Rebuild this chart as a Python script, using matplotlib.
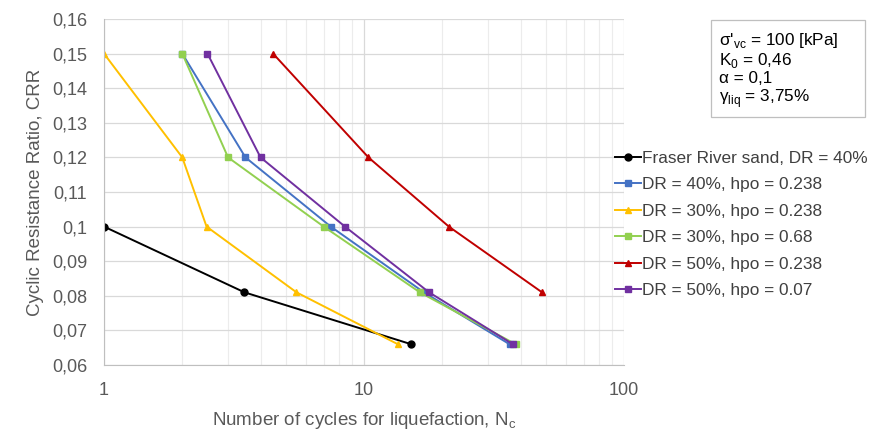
import matplotlib
matplotlib.use('Agg')
import matplotlib.pyplot as plt
from matplotlib.patches import Rectangle
from matplotlib.ticker import FuncFormatter, LogLocator, MultipleLocator

plt.rcParams['font.family'] = ['Liberation Sans', 'DejaVu Sans']

crr = [0.15, 0.12, 0.1, 0.081, 0.066]

fraser_n = [1, 3.47, 15.2]
fraser_crr = [0.1, 0.081, 0.066]
dr40_238 = [2, 3.5, 7.45, 17, 36.3]
dr30_238 = [1, 2, 2.48, 5.5, 13.5]
dr30_068 = [2, 3, 7, 16.4, 38.3]
dr50_238_n = [4.47, 10.4, 21.2, 48.4]
dr50_238_crr = [0.15, 0.12, 0.1, 0.081]
dr50_007 = [2.5, 4, 8.45, 17.8, 37.4]

labels = ['Fraser River sand, DR = 40%', 'DR = 40%, hpo = 0.238',
          'DR = 30%, hpo = 0.238', 'DR = 30%, hpo = 0.68',
          'DR = 50%, hpo = 0.238', 'DR = 50%, hpo = 0.07']

fig = plt.figure(figsize=(8.76, 4.32), dpi=100)
ax = fig.add_axes([104/876, 1 - 365/432, 520/876, 346/432])

lw = 1.4
ax.plot(fraser_n, fraser_crr, color='black', marker='o', ms=5, lw=lw, label=labels[0])
ax.plot(dr40_238, crr, color='#4472C4', marker='s', ms=5, lw=lw, label=labels[1])
ax.plot(dr30_238, crr, color='#FFC000', marker='^', ms=5, lw=lw, label=labels[2])
ax.plot(dr30_068, crr, color='#92D050', marker='s', ms=5, lw=lw, label=labels[3])
ax.plot(dr50_238_n, dr50_238_crr, color='#C00000', marker='^', ms=5, lw=lw, label=labels[4])
ax.plot(dr50_007, crr, color='#7030A0', marker='s', ms=5, lw=lw, label=labels[5])

ax.set_xscale('log')
ax.set_xlim(1, 100)
ax.set_ylim(0.06, 0.16)
ax.yaxis.set_major_locator(MultipleLocator(0.01))
ax.xaxis.set_major_locator(LogLocator(base=10))
ax.xaxis.set_minor_locator(LogLocator(base=10, subs=range(2, 10)))
ax.xaxis.set_minor_formatter(FuncFormatter(lambda v, p: ''))
ax.xaxis.set_major_formatter(FuncFormatter(lambda v, p: f'{v:g}'))
ax.yaxis.set_major_formatter(FuncFormatter(lambda v, p: f'{round(v, 2):g}'.replace('.', ',')))

ax.grid(True, which='major', color='#d9d9d9', lw=0.9)
ax.grid(True, which='minor', axis='x', color='#ececec', lw=0.8)
ax.set_axisbelow(True)
for s in ['top', 'right']:
    ax.spines[s].set_visible(False)
for s in ['left', 'bottom']:
    ax.spines[s].set_color('#bfbfbf')
ax.tick_params(which='both', length=0, colors='#595959', labelsize=13)
ax.tick_params(axis='y', pad=12)
ax.tick_params(axis='x', pad=12)

ax.set_ylabel('Cyclic Resistance Ratio, CRR', color='#595959', fontsize=13.5, labelpad=6)
ax.set_xlabel('Number of cycles for liquefaction, N$_\\mathregular{c}$', color='#595959',
              fontsize=13.5, labelpad=8)

fig.legend(loc='upper left', bbox_to_anchor=(608/876, 1 - 144/432), frameon=False,
           fontsize=12.4, labelcolor='#404040', handlelength=1.5, handletextpad=0.1,
           labelspacing=0.66, borderaxespad=0)

fig.patches.append(Rectangle((711/876, 1 - 117/432), 154/876, 97/432, transform=fig.transFigure,
                             fc='white', ec='#bfbfbf', lw=0.9))
fig.text(719/876, 1 - 31/432,
         "σ'$_\\mathregular{vc}$ = 100 [kPa]\nK$_\\mathregular{0}$ = 0,46\nα = 0,1\nγ$_\\mathregular{liq}$ = 3,75%",
         ha='left', va='top', fontsize=12.3, color='black', linespacing=1.08)

fig.savefig('out.png', dpi=100)
